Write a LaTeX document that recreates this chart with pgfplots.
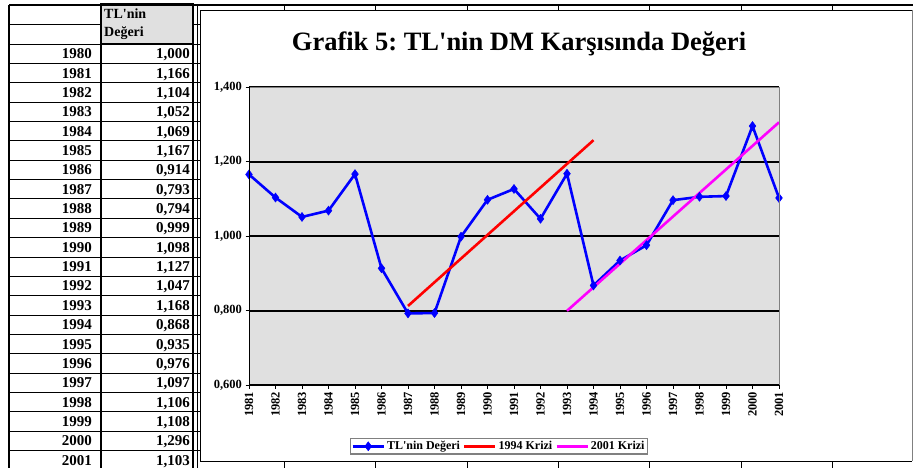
\documentclass[border=0pt]{standalone}
\usepackage{fontspec}
\setmainfont{Liberation Serif}[Ligatures=TeXOff]
\usepackage{pgfplots}
\pgfplotsset{compat=1.18}
\definecolor{plotbg}{RGB}{224,224,224}
\definecolor{frgray}{RGB}{128,128,128}
\definecolor{tlblue}{RGB}{0,0,255}
\definecolor{krred}{RGB}{255,0,0}
\definecolor{krmag}{RGB}{255,0,255}
\frenchspacing
\begin{document}
\begin{tikzpicture}[x=1pt,y=1pt]
\path[use as bounding box] (0,0) rectangle (913,468);
% ---------- spreadsheet table ----------
\fill[plotbg] (101,{468-4}) rectangle (193,{468-44});
\foreach \k in {0,...,21} {
  \draw[line width=0.9pt] (9,{468-44-19.36*\k}) -- (200,{468-44-19.36*\k});
}
\draw[line width=0.9pt] (9,{468-24}) -- (101,{468-24});
\draw[line width=0.9pt] (193,{468-24}) -- (200,{468-24});
\draw[line width=2pt] (9,{468-5}) -- (913,{468-5});
\draw[line width=2pt] (9,{468-5}) -- (9,0);
\draw[line width=1.4pt] (101,{468-44}) -- (101,0);
\draw[line width=2pt] (193,{468-44}) -- (193,0);
\draw[line width=0.6pt] (197,{468-5}) -- (197,0);
\draw[line width=2.6pt] (101,{468-4}) rectangle (193,{468-44});
\node[anchor=base west,inner sep=0pt,font=\fontsize{14}{16}\selectfont\bfseries] at (104,{468-18.5}) {TL'nin};
\node[anchor=base west,inner sep=0pt,font=\fontsize{14}{16}\selectfont\bfseries] at (104,{468-37}) {Değeri};
\foreach \yr/\v [count=\i from 0] in {1980/{1,000},1981/{1,166},1982/{1,104},1983/{1,052},1984/{1,069},1985/{1,167},1986/{0,914},1987/{0,793},1988/{0,794},1989/{0,999},1990/{1,098},1991/{1,127},1992/{1,047},1993/{1,168},1994/{0,868},1995/{0,935},1996/{0,976},1997/{1,097},1998/{1,106},1999/{1,108},2000/{1,296},2001/{1,103}} {
  \node[anchor=base east,inner sep=0pt,font=\fontsize{15}{16}\selectfont\bfseries] at (92,{468-44-19.36*\i-9.68-5}) {\yr};
  \node[anchor=base east,inner sep=0pt,font=\fontsize{15}{16}\selectfont\bfseries] at (190,{468-44-19.36*\i-9.68-5}) {\v};
}
% ---------- spreadsheet grid ticks around chart ----------
\foreach \gx in {284,375,467,558,649,741,832} {
  \draw[line width=0.9pt] (\gx,{468-5}) -- (\gx,{468-10});
  \draw[line width=0.9pt] (\gx,{468-461}) -- (\gx,0);
}
% ---------- chart frame ----------
\fill[white] (200.5,{468-10.3}) rectangle (912,{468-461});
\draw[line width=0.9pt] (912,{468-10.3}) -- (200.5,{468-10.3}) -- (200.5,{468-461}) -- (912,{468-461});
\draw[line width=1pt,frgray] (912,{468-10.3}) -- (912,{468-461});
\node[anchor=base,inner sep=0pt,font=\fontsize{26.5}{30}\selectfont\bfseries] at (519,{468-51}) {Grafik 5: TL'nin DM Karşısında Değeri};
% ---------- axis ----------
\begin{axis}[
  at={(249pt,82.7pt)}, anchor=south west,
  width=530pt, height=298pt, scale only axis,
  xmin=1981, xmax=2001, ymin=0.6, ymax=1.4,
  clip=false,
  axis background/.style={fill=plotbg},
  axis line style={draw=none},
  xtick={1981,...,2001},
  xticklabels={1981,1982,1983,1984,1985,1986,1987,1988,1989,1990,1991,1992,1993,1994,1995,1996,1997,1998,1999,2000,2001},
  ytick={0.6,0.8,1.0,1.2,1.4},
  tick pos=left, tick align=outside,
  major tick length=3.5pt,
  tick style={black,line width=0.9pt},
  ymajorgrids, grid style={black,line width=1.6pt},
  ticklabel style={font=\fontsize{12.5}{14}\selectfont\bfseries},
  yticklabel style={/pgf/number format/.cd,fixed,fixed zerofill,precision=3,use comma,assume math mode=true},
  xticklabel style={rotate=90,anchor=east,inner sep=3pt},
  legend columns=3,
  legend style={at={(0.4717,-0.2047)},anchor=center,draw=frgray,line width=1.6pt,
    font=\fontsize{12}{13}\selectfont\bfseries,inner sep=1pt,
    /tikz/every even column/.append style={column sep=1pt}},
  legend image code/.code={\draw[mark repeat=2,mark phase=2,#1] plot coordinates {(0pt,0pt) (15.5pt,0pt) (31pt,0pt)};},
  after end axis/.code={
    \draw[frgray,line width=1pt] (rel axis cs:0,1) -- (rel axis cs:1,1) -- (rel axis cs:1,0);
    \draw[black,line width=1pt] (rel axis cs:0,1) -- (rel axis cs:0,0) -- (rel axis cs:1,0);
  },
]
\addplot[tlblue,line width=2.6pt,mark=diamond*,mark size=4.5pt,mark options={line width=0.5pt}] coordinates {
(1981,1.166) (1982,1.104) (1983,1.052) (1984,1.069) (1985,1.167) (1986,0.914) (1987,0.793)
(1988,0.794) (1989,0.999) (1990,1.098) (1991,1.127) (1992,1.047) (1993,1.168) (1994,0.868)
(1995,0.935) (1996,0.976) (1997,1.097) (1998,1.106) (1999,1.108) (2000,1.296) (2001,1.103)};
\addlegendentry{TL'nin Değeri}
\addplot[krred,line width=2.6pt] coordinates {(1987,0.813) (1994,1.258)};
\addlegendentry{1994 Krizi}
\addplot[krmag,line width=2.6pt] coordinates {(1993,0.800) (2001,1.306)};
\addlegendentry{2001 Krizi}
\end{axis}
\end{tikzpicture}
\end{document}
